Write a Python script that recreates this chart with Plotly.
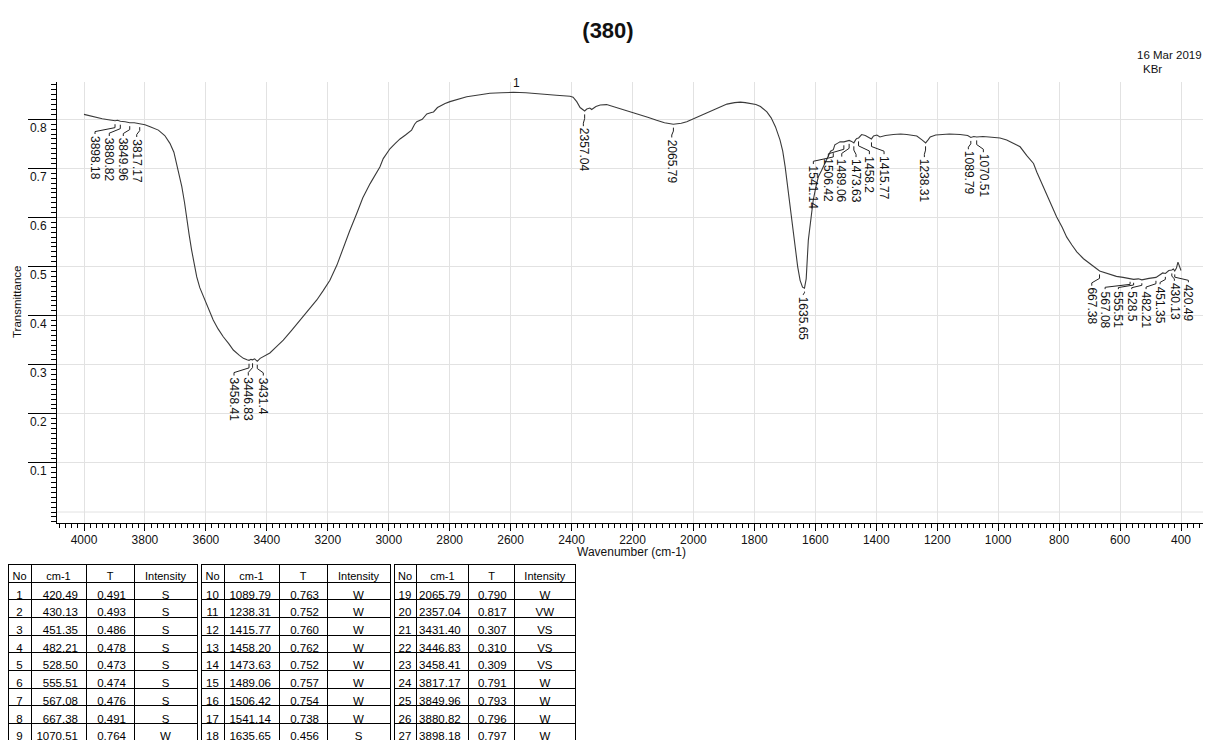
import plotly.graph_objects as go

# ---------------- data ----------------
wavenumber = [4000, 3980, 3960, 3940, 3920, 3898, 3890, 3880.8, 3865, 3850, 3835, 3817, 3800, 3783, 3756,
              3735, 3718, 3705, 3696, 3688, 3679, 3670, 3663, 3655, 3647, 3638, 3630, 3620, 3608, 3590,
              3576, 3560, 3543, 3525, 3510, 3490, 3477, 3465, 3458.4, 3452, 3446.8, 3440, 3431.4, 3422,
              3405, 3390, 3370, 3346, 3320, 3291, 3260, 3236, 3215, 3193, 3170, 3149, 3128, 3105, 3085,
              3061, 3040, 3029, 3018, 2996, 2980, 2963, 2945, 2925, 2915, 2908, 2890, 2875, 2860, 2853,
              2840, 2832, 2815, 2799, 2770, 2744, 2700, 2668, 2630, 2591, 2550, 2503, 2450, 2405, 2395,
              2383, 2372, 2357, 2350, 2340, 2334, 2320, 2306, 2285, 2263, 2235, 2208, 2175, 2150, 2121,
              2095, 2066, 2040, 2022, 2000, 1978, 1955, 1934, 1910, 1890, 1865, 1846, 1830, 1813, 1795,
              1780, 1765, 1759, 1745, 1731, 1716, 1707, 1699, 1691, 1683, 1675, 1667, 1658, 1650, 1642,
              1635.65, 1630, 1623, 1615, 1607, 1598, 1590, 1580, 1574, 1565, 1558, 1550, 1541, 1536, 1525,
              1519, 1506, 1497, 1489, 1481, 1473.6, 1468, 1464, 1458, 1448, 1436, 1426, 1415.8, 1409, 1398,
              1388, 1370, 1344, 1320, 1300, 1280, 1267, 1250, 1238, 1230, 1223, 1205, 1190, 1160, 1125,
              1100, 1089.8, 1080, 1070.5, 1050, 1030, 1015, 994, 972, 950, 928, 906, 884, 873, 857,
              841, 825, 808, 790, 775, 758, 742, 720, 699, 680, 667, 640, 612, 590, 567,
              555.5, 540, 528.5, 505, 482, 470, 460, 451, 440, 430, 425, 420.5, 415, 410, 405, 400]
transmittance = [0.810, 0.807, 0.803, 0.801, 0.799, 0.797, 0.798, 0.796, 0.795, 0.793, 0.793, 0.791, 0.789, 0.785, 0.778,
                 0.767, 0.751, 0.733, 0.710, 0.690, 0.663, 0.630, 0.595, 0.565, 0.534, 0.505, 0.479, 0.457, 0.438, 0.412,
                 0.391, 0.373, 0.357, 0.343, 0.330, 0.319, 0.313, 0.310, 0.309, 0.311, 0.310, 0.312, 0.307, 0.313,
                 0.318, 0.324, 0.336, 0.350, 0.369, 0.391, 0.413, 0.432, 0.451, 0.472, 0.503, 0.540, 0.573, 0.608, 0.640,
                 0.669, 0.690, 0.703, 0.720, 0.740, 0.750, 0.760, 0.768, 0.778, 0.790, 0.795, 0.800, 0.811, 0.814, 0.815,
                 0.824, 0.827, 0.832, 0.836, 0.842, 0.846, 0.850, 0.853, 0.854, 0.855, 0.854, 0.851, 0.849, 0.847, 0.845,
                 0.836, 0.824, 0.817, 0.821, 0.823, 0.820, 0.826, 0.829, 0.830, 0.826, 0.820, 0.815, 0.809, 0.804, 0.798,
                 0.793, 0.790, 0.792, 0.795, 0.801, 0.807, 0.814, 0.820, 0.826, 0.831, 0.834, 0.835, 0.834, 0.832, 0.830,
                 0.826, 0.818, 0.815, 0.803, 0.785, 0.758, 0.735, 0.703, 0.665, 0.622, 0.580, 0.540, 0.500, 0.472, 0.458,
                 0.456, 0.475, 0.554, 0.600, 0.635, 0.663, 0.683, 0.695, 0.703, 0.716, 0.727, 0.735, 0.738, 0.748, 0.752,
                 0.754, 0.754, 0.756, 0.757, 0.755, 0.752, 0.758, 0.761, 0.762, 0.769, 0.767, 0.764, 0.760, 0.766, 0.768,
                 0.764, 0.767, 0.769, 0.770, 0.769, 0.768, 0.766, 0.758, 0.752, 0.758, 0.764, 0.768, 0.769, 0.770, 0.769,
                 0.767, 0.763, 0.765, 0.764, 0.765, 0.764, 0.763, 0.762, 0.758, 0.751, 0.744, 0.726, 0.710, 0.692, 0.670,
                 0.646, 0.623, 0.601, 0.580, 0.560, 0.544, 0.530, 0.516, 0.505, 0.497, 0.491, 0.485, 0.480, 0.478, 0.476,
                 0.474, 0.475, 0.473, 0.476, 0.478, 0.483, 0.487, 0.486, 0.492, 0.493, 0.495, 0.491, 0.497, 0.509, 0.498, 0.492]

peak_no = list(range(1, 28))
peak_wn = [420.49, 430.13, 451.35, 482.21, 528.50, 555.51, 567.08, 667.38, 1070.51,
           1089.79, 1238.31, 1415.77, 1458.20, 1473.63, 1489.06, 1506.42, 1541.14, 1635.65,
           2065.79, 2357.04, 3431.40, 3446.83, 3458.41, 3817.17, 3849.96, 3880.82, 3898.18]
peak_T = [0.491, 0.493, 0.486, 0.478, 0.473, 0.474, 0.476, 0.491, 0.764,
          0.763, 0.752, 0.760, 0.762, 0.752, 0.757, 0.754, 0.738, 0.456,
          0.790, 0.817, 0.307, 0.310, 0.309, 0.791, 0.793, 0.796, 0.797]
peak_intensity = ["S", "S", "S", "S", "S", "S", "S", "S", "W",
                  "W", "W", "W", "W", "W", "W", "W", "W", "S",
                  "W", "VW", "VS", "VS", "VS", "W", "W", "W", "W"]

title_text = "(380)"
date_text = "16 Mar 2019"
matrix_text = "KBr"
trace_label = "1"
trace_label_wn = 2582

# label placement (layout): x of the rotated text column, y of its top edge
label_x = [375.8, 421.7, 468.7, 514.6, 561.6, 605.5, 649.1, 692.8, 1048.6,
           1097.8, 1242.2, 1374.5, 1422.7, 1466.4, 1513.3, 1557.3, 1606.5, 1639.3,
           2071.2, 2361.3, 3411.6, 3460.8, 3507.7, 3827.0, 3871.0, 3917.0, 3963.9]
label_top = [0.466, 0.469, 0.462, 0.452, 0.452, 0.452, 0.452, 0.459, 0.731,
             0.737, 0.721, 0.727, 0.727, 0.721, 0.722, 0.722, 0.707, 0.440,
             0.761, 0.784, 0.276, 0.276, 0.276, 0.762, 0.764, 0.764, 0.768]

FONT = "Liberation Sans, Arial, sans-serif"
W, H = 1211, 740
OFF = 8                 # page body margin (screen px = figure px + OFF)


def fx(px):
    return (px - OFF) / W


def fy(py):
    return 1 - (py - OFF) / H


X0, X1 = 57, 1208      # plot area, screen px
Y0, Y1 = 82, 523.3

fig = go.Figure()

fig.add_trace(go.Scatter(x=wavenumber, y=transmittance, mode="lines",
                         line=dict(color="#3a3a3a", width=1.1), hoverinfo="skip",
                         showlegend=False, xaxis="x", yaxis="y"))

# leader lines
lx, ly = [], []
for pw, pt, xw, yt in zip(peak_wn, peak_T, label_x, label_top):
    y1 = pt - 0.007
    y4 = yt + 0.002
    yb = y1 - (y1 - y4) * 0.35
    yc = y1 - (y1 - y4) * 0.75
    lx += [pw, pw, xw, xw, None]
    ly += [y1, yb, yc, y4, None]
fig.add_trace(go.Scatter(x=lx, y=ly, mode="lines", line=dict(color="#222", width=1),
                         hoverinfo="skip", showlegend=False))


def fmt(v):
    return ("%.2f" % v).rstrip("0").rstrip(".")


annotations = []
for pw, xw, yt in zip(peak_wn, label_x, label_top):
    annotations.append(dict(x=xw, y=yt, xref="x", yref="y", text=fmt(pw), textangle=90,
                            showarrow=False, xanchor="center", yanchor="top",
                            font=dict(family=FONT, size=12, color="#111"), borderpad=0))

# trace label "1"
i_lab = min(range(len(wavenumber)), key=lambda i: abs(wavenumber[i] - trace_label_wn))
annotations.append(dict(x=trace_label_wn, y=transmittance[i_lab], xref="x", yref="y", text=trace_label,
                        showarrow=False, yanchor="bottom", xanchor="center",
                        font=dict(family=FONT, size=12, color="#111")))

annotations += [
    dict(x=fx(1204), y=fy(55), xref="paper", yref="paper", text=date_text, showarrow=False,
         xanchor="right", yanchor="middle", font=dict(family=FONT, size=11.5, color="#111")),
    dict(x=fx(1141), y=fy(69), xref="paper", yref="paper", text=matrix_text, showarrow=False,
         xanchor="left", yanchor="middle", font=dict(family=FONT, size=11.5, color="#111")),
    dict(x=fx(631), y=fy(552), xref="paper", yref="paper", text="Wavenumber (cm-1)", showarrow=False,
         xanchor="center", yanchor="middle", font=dict(family=FONT, size=12, color="#111")),
    dict(x=fx(17), y=fy(302), xref="paper", yref="paper", text="Transmittance", showarrow=False,
         textangle=-90, xanchor="center", yanchor="middle", font=dict(family=FONT, size=11.5, color="#111")),
]

# ---------------- tables ----------------
col_w = [23, 55, 48, 63]
table_x = [(8, 197), (201, 390), (394, 575)]
for k in range(3):
    sl = slice(9 * k, 9 * k + 9)
    fig.add_trace(go.Table(
        domain=dict(x=[fx(table_x[k][0]), fx(table_x[k][1])], y=[0, fy(564)]),
        columnwidth=col_w,
        header=dict(values=["No", "cm-1", "T", "Intensity"], align="center", height=18,
                    line=dict(color="black", width=1), fill=dict(color="white"),
                    font=dict(family=FONT, size=11, color="black")),
        cells=dict(values=[peak_no[sl], ["%.2f" % v for v in peak_wn[sl]],
                           ["%.3f" % v for v in peak_T[sl]], peak_intensity[sl]],
                   align=["center", "right", "right", "center"], height=17.7,
                   line=dict(color="black", width=1), fill=dict(color="white"),
                   font=dict(family=FONT, size=11.5, color="black")),
    ))

fig.update_layout(
    width=W, height=H,
    margin=dict(l=0, r=0, t=0, b=0),
    paper_bgcolor="white", plot_bgcolor="white",
    showlegend=False,
    title=dict(text="<b>%s</b>" % title_text, x=fx(608), y=fy(30), xanchor="center", yanchor="middle",
               font=dict(family=FONT, size=22, color="#111")),
    annotations=annotations,
    xaxis=dict(domain=[fx(X0), fx(X1)], range=[4088.6, 311.4], tick0=0, dtick=200,
               showgrid=True, gridcolor="#e2e2e2", gridwidth=1, zeroline=False,
               showline=True, linecolor="black", linewidth=1,
               ticks="outside", ticklen=7, tickcolor="black", ticklabelstandoff=-2,
               minor=dict(tick0=0, dtick=20, ticks="outside", ticklen=4, tickcolor="black", showgrid=False),
               tickfont=dict(family=FONT, size=12, color="#111"),
               anchor="y"),
    yaxis=dict(domain=[fy(Y1), fy(Y0)], range=[-0.023, 0.876],
               tickvals=[0.1, 0.2, 0.3, 0.4, 0.5, 0.6, 0.7, 0.8],
               ticktext=["0.1", "0.2", "0.3", "0.4", "0.5", "0.6", "0.7", "0.8"],
               showgrid=True, gridcolor="#e2e2e2", gridwidth=1, zeroline=False,
               showline=True, linecolor="black", linewidth=1,
               ticks="outside", ticklen=28, tickcolor="black",
               ticklabelstandoff=-21, ticklabelshift=8,
               minor=dict(tick0=0, dtick=0.01, ticks="outside", ticklen=5, tickcolor="black", showgrid=False),
               tickfont=dict(family=FONT, size=12, color="#111"),
               anchor="x"),
    shapes=[dict(type="line", xref="x domain", yref="y", x0=0, x1=1, y0=0, y1=0,
                 line=dict(color="#e2e2e2", width=1), layer="below")],
)

fig.write_html("out.html")
